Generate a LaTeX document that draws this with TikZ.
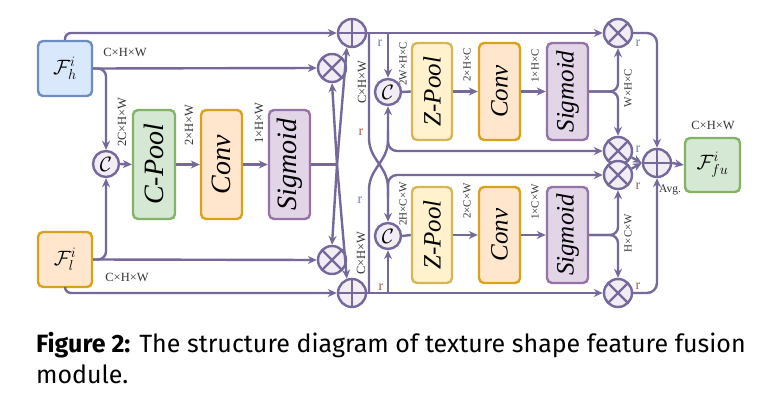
\documentclass[tikz,border=0pt]{standalone}
\usepackage{fontspec}
\setmainfont{Liberation Serif}
\newfontfamily\capfont{Fira Sans}
\usetikzlibrary{arrows.meta}
\definecolor{lc}{HTML}{75699B}
\definecolor{cfill}{HTML}{F2EDF5}
\definecolor{bluef}{HTML}{DAE8FC}\definecolor{blued}{HTML}{6C8EBF}
\definecolor{orf}{HTML}{FFE6CC}\definecolor{ord}{HTML}{D9A21B}
\definecolor{grf}{HTML}{D5E8D4}\definecolor{grd}{HTML}{82B366}
\definecolor{puf}{HTML}{E1D5E7}\definecolor{pud}{HTML}{9673A6}
\definecolor{yef}{HTML}{FFF2CC}\definecolor{yed}{HTML}{D6B656}
\definecolor{rblue}{HTML}{6A7FA8}\definecolor{rred}{HTML}{A0584A}
\tikzset{
  conn/.style={draw=lc, line width=2.4pt, -{Stealth[length=9pt,width=8pt]}},
  plainline/.style={draw=lc, line width=2.4pt},
  box/.style={rounded corners=5pt, line width=2.4pt, inner sep=0pt},
  opc/.style={circle, draw=lc, fill=cfill, line width=2.4pt, minimum size=28pt, inner sep=0pt},
  oplus/.style={opc, path picture={\draw[lc,line width=2.2pt] (path picture bounding box.north)--(path picture bounding box.south) (path picture bounding box.west)--(path picture bounding box.east);}},
  otimes/.style={opc, path picture={\draw[lc,line width=2.2pt] (path picture bounding box.north west)--(path picture bounding box.south east) (path picture bounding box.south west)--(path picture bounding box.north east);}},
  concat/.style={opc, minimum size=26pt, font=\fontsize{20}{20}\selectfont},
  dimL/.style={font=\fontsize{12.5}{13}\selectfont, text=black!80, inner sep=0pt},
  dimR/.style={font=\fontsize{11}{12}\selectfont, text=black!80, inner sep=0pt},
  bigL/.style={font=\fontsize{28}{28}\selectfont\itshape, inner sep=0pt, rotate=90},
  bigR/.style={font=\fontsize{25}{25}\selectfont\itshape, inner sep=0pt, rotate=90},
  rlab/.style={font=\fontsize{14}{14}\selectfont, inner sep=0pt},
  mathbox/.style={box, font=\fontsize{22}{22}\selectfont, minimum width=54pt, minimum height=55pt}
}
\begin{document}
\begin{tikzpicture}[x=1pt,y=-1pt]
\useasboundingbox (0,0) rectangle (777,407);
% ---------- left part ----------
\node[mathbox, draw=blued, fill=bluef] (Fh) at (65,68.5) {$\mathcal{F}_h^i$};
\node[mathbox, draw=ord, fill=orf] (Fl) at (65,259.5) {$\mathcal{F}_l^i$};
\node[concat] (cL) at (106,164) {$\mathcal{C}$};
\node[box, draw=grd, fill=grf, minimum width=42pt, minimum height=109pt] (CPool) at (154,164.5) {};
\node[bigL] (CPoolt) at (CPool) {C-Pool};
\node[box, draw=ord, fill=orf, minimum width=41pt, minimum height=109pt] (Conv1) at (221.5,164.5) {};
\node[bigL] (Conv1t) at (Conv1) {Conv};
\node[box, draw=pud, fill=puf, minimum width=41pt, minimum height=109pt] (Sig1) at (289.5,164.5) {};
\node[bigL] (Sig1t) at (Sig1) {Sigmoid};
\node[oplus] (P1) at (352,33) {};
\node[otimes] (M1) at (332,68) {};
\node[otimes] (M2) at (332,260) {};
\node[oplus] (P2) at (352,293) {};
\coordinate (J1) at (337,164.5);

\draw[conn, rounded corners=6pt] (Fh.north) |- (P1.west);
\draw[conn] (Fh.east) -- (M1.west);
\draw[conn, rounded corners=8pt] (Fh.east) -| (cL.north);
\draw[conn] (Fl.east) -- (M2.west);
\draw[conn, rounded corners=8pt] (Fl.east) -| (cL.south);
\draw[conn, rounded corners=6pt] (Fl.south) |- (P2.west);
\draw[conn] (cL.east) -- (CPool.west);
\draw[conn] (CPool.east) -- (Conv1.west);
\draw[conn] (Conv1.east) -- (Sig1.west);
\draw[plainline] (Sig1.east) -- (J1);
\draw[conn] (J1) -- (M1.south);
\draw[conn] (J1) -- (M2.north);
\draw[conn] (J1) -- (P2.110);
\draw[conn] (J1) -- (P1.-110);

\node[dimL] (d1) at (125,52) {C×H×W};
\node[dimL, rotate=90] (d2) at (122,122) {2C×H×W};
\node[dimL, rotate=90] (d3) at (189,125) {2×H×W};
\node[dimL, rotate=90] (d4) at (259,123) {1×H×W};
\node[dimL] (d5) at (127,277) {C×H×W};
\node[dimL, rotate=90] (d6) at (362,82) {C×H×W};
\node[dimL, rotate=90] (d7) at (361,253) {C×H×W};

% ---------- right part ----------
\node[concat] (cT) at (388,92) {$\mathcal{C}$};
\node[concat] (cB) at (388,236) {$\mathcal{C}$};
\node[box, draw=yed, fill=yef, minimum width=40pt, minimum height=97pt] (ZP1) at (432,91.5) {};
\node[bigR] (ZP1t) at (ZP1) {Z-Pool};
\node[box, draw=ord, fill=orf, minimum width=41pt, minimum height=97pt] (Conv2) at (499.5,91.5) {};
\node[bigR] (Conv2t) at (Conv2) {Conv};
\node[box, draw=pud, fill=puf, minimum width=41pt, minimum height=97pt] (Sig2) at (567.5,91.5) {};
\node[bigR] (Sig2t) at (Sig2) {Sigmoid};
\node[box, draw=yed, fill=yef, minimum width=40pt, minimum height=96pt] (ZP2) at (432,235) {};
\node[bigR] (ZP2t) at (ZP2) {Z-Pool};
\node[box, draw=ord, fill=orf, minimum width=41pt, minimum height=96pt] (Conv3) at (499.5,235) {};
\node[bigR] (Conv3t) at (Conv3) {Conv};
\node[box, draw=pud, fill=puf, minimum width=41pt, minimum height=96pt] (Sig3) at (567.5,235) {};
\node[bigR] (Sig3t) at (Sig3) {Sigmoid};

\node[otimes] (TR) at (618,33) {};
\node[otimes] (UM) at (618,151) {};
\node[otimes] (LM) at (618,175) {};
\node[otimes] (BR) at (618,293) {};
\node[oplus] (PF) at (657,163) {};
\node[mathbox, draw=grd, fill=grf, minimum width=55pt, minimum height=54pt] (FF) at (712.5,165) {$\mathcal{F}_{fu}^i$};

\coordinate (T1) at (369,33);
\coordinate (T2) at (388,33);
\coordinate (B1) at (369,293);
\coordinate (B2) at (388,293);

\draw[conn] (P1.east) -- (TR.west);
\draw[conn] (T2) -- (cT.north);
\draw[conn] (P2.east) -- (BR.west);
\draw[conn] (B2) -- (cB.south);
% crossing branches
\draw[conn] (T1) -- (369,138) .. controls (369,160) and (388,166) .. (388,188) -- (cB.north);
\draw[conn, rounded corners=9pt] (388,197) |- (LM.west);
\draw[conn] (B1) -- (369,190) .. controls (369,168) and (388,162) .. (388,140) -- (cT.south);
\draw[conn, rounded corners=9pt] (388,131) |- (UM.west);

\draw[plainline] (cT.east) -- (ZP1.west);
\draw[conn] (ZP1.east) -- (Conv2.west);
\draw[conn] (Conv2.east) -- (Sig2.west);
\draw[plainline] (cB.east) -- (ZP2.west);
\draw[conn] (ZP2.east) -- (Conv3.west);
\draw[conn] (Conv3.east) -- (Sig3.west);

\draw[conn, rounded corners=8pt] (Sig2.east) -| (TR.south);
\draw[conn, rounded corners=8pt] (Sig2.east) -| (UM.north);
\draw[conn, rounded corners=8pt] (Sig3.east) -| (LM.south);
\draw[conn, rounded corners=8pt] (Sig3.east) -| (BR.north);

\draw[conn, rounded corners=10pt] (TR.east) -| (PF.north);
\draw[conn, rounded corners=10pt] (BR.east) -| (PF.south);
\draw[conn] (UM.-25) -- (PF.west);
\draw[conn] (LM.25) -- (PF.west);
\draw[conn] (PF.east) -- (FF.west);

\node[dimR, rotate=90] (e1) at (403,64) {2W×H×C};
\node[dimR, rotate=90] (e2) at (467,65) {2×H×C};
\node[dimR, rotate=90] (e3) at (535,66) {1×H×C};
\node[dimR, rotate=90] (e4) at (628,88) {W×H×C};
\node[dimR, rotate=90] (e5) at (403,204) {2H×C×W};
\node[dimR, rotate=90] (e6) at (467,201) {2×C×W};
\node[dimR, rotate=90] (e7) at (535,202) {1×C×W};
\node[dimR, rotate=90] (e8) at (628,233) {H×C×W};
\node[dimL] (e9) at (713,125) {C×H×W};
\node[dimL, font=\fontsize{11.5}{12}\selectfont] (avg) at (670,190) {Avg.};

\node[rlab, text=rblue] (r1) at (380,43) {r};
\node[rlab, text=rred] (r2) at (361,132) {r};
\node[rlab, text=rblue] (r3) at (360,200) {r};
\node[rlab, text=rred] (r4) at (381,287) {r};
\node[rlab, text=rblue] (r5) at (638,43) {r};
\node[rlab, text=rblue] (r6) at (638,149) {r};
\node[rlab, text=rred] (r7) at (638,186) {r};
\node[rlab, text=rred] (r8) at (638,286) {r};

% ---------- caption ----------
\node[anchor=base west, inner sep=0pt, font=\capfont\fontsize{25}{30}\selectfont] (cap1) at (36,352) {\textbf{Figure 2:} The structure diagram of texture shape feature fusion};
\node[anchor=base west, inner sep=0pt, font=\capfont\fontsize{25}{30}\selectfont] (cap2) at (36,383) {module.};
\end{tikzpicture}
\end{document}
